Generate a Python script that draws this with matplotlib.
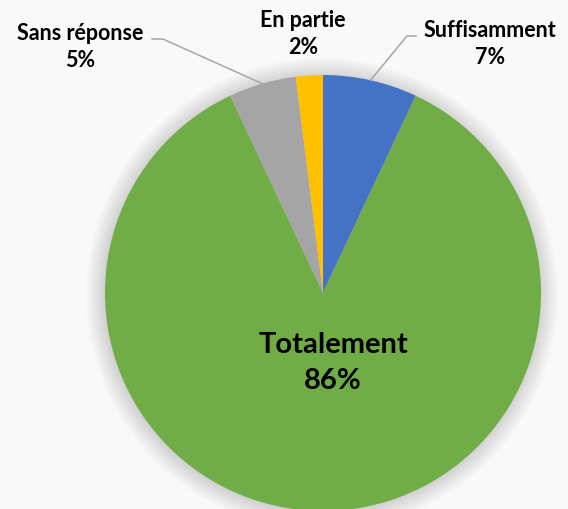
import numpy as np
import matplotlib
matplotlib.use('Agg')
import matplotlib.pyplot as plt
from matplotlib.patches import Circle

labels = ['Suffisamment', 'Totalement', 'Sans réponse', 'En partie']
values = [7, 86, 5, 2]
colors = ['#4472C4', '#70AD47', '#A5A5A5', '#FFC000']

plt.rcParams['font.family'] = ['Lato', 'DejaVu Sans']

fig = plt.figure(figsize=(5.68, 5.10), dpi=100)
fig.patch.set_facecolor('#f9f9f9')
ax = fig.add_axes([105 / 568, -2 / 510, 436 / 568, 436 / 510])
ax.set_facecolor('none')

# soft shadow around the pie
for i in range(20):
    ax.add_patch(Circle((-0.004, -0.006), 1.0 + 0.0045 * i, color='#000000',
                        alpha=0.009, lw=0, zorder=0, clip_on=False))

wedges, _ = ax.pie(values, colors=colors, startangle=90, counterclock=False,
                   radius=1.0, wedgeprops=dict(linewidth=0))
for w in wedges:
    w.set_zorder(2)

# label positions (data coords, centre of the two-line text)
label_pos = {
    'Suffisamment': (0.766, 1.147),
    'Totalement': (0.046, -0.317),
    'Sans réponse': (-1.115, 1.133),
    'En partie': (-0.092, 1.193),
}
total = sum(values)
for lab, val, w in zip(labels, values, wedges):
    x, y = label_pos[lab]
    txt = f'{lab}\n{round(val / total * 100)}%'
    big = lab == 'Totalement'
    ax.text(x, y, txt, ha='center', va='center', fontsize=21 if big else 15.5,
            fontweight='bold', linespacing=1.45 if big else 1.39,
            color='#000000', clip_on=False, zorder=5)

# leader lines
mid = {lab: np.deg2rad((w.theta1 + w.theta2) / 2) for lab, w in zip(labels, wedges)}
a = mid['Sans réponse']
ax.plot([np.cos(a), -0.734, -0.784], [np.sin(a), 1.165, 1.165],
        color='#A6A6A6', lw=1.1, clip_on=False, zorder=4)
a = mid['Suffisamment']
ax.plot([np.cos(a), 0.385, 0.427], [np.sin(a), 1.179, 1.179],
        color='#A6A6A6', lw=1.1, clip_on=False, zorder=4)

ax.set_xlim(-1, 1)
ax.set_ylim(-1, 1)
ax.set_aspect('equal')
ax.axis('off')

fig.savefig('out.png', dpi=100, facecolor=fig.get_facecolor())
